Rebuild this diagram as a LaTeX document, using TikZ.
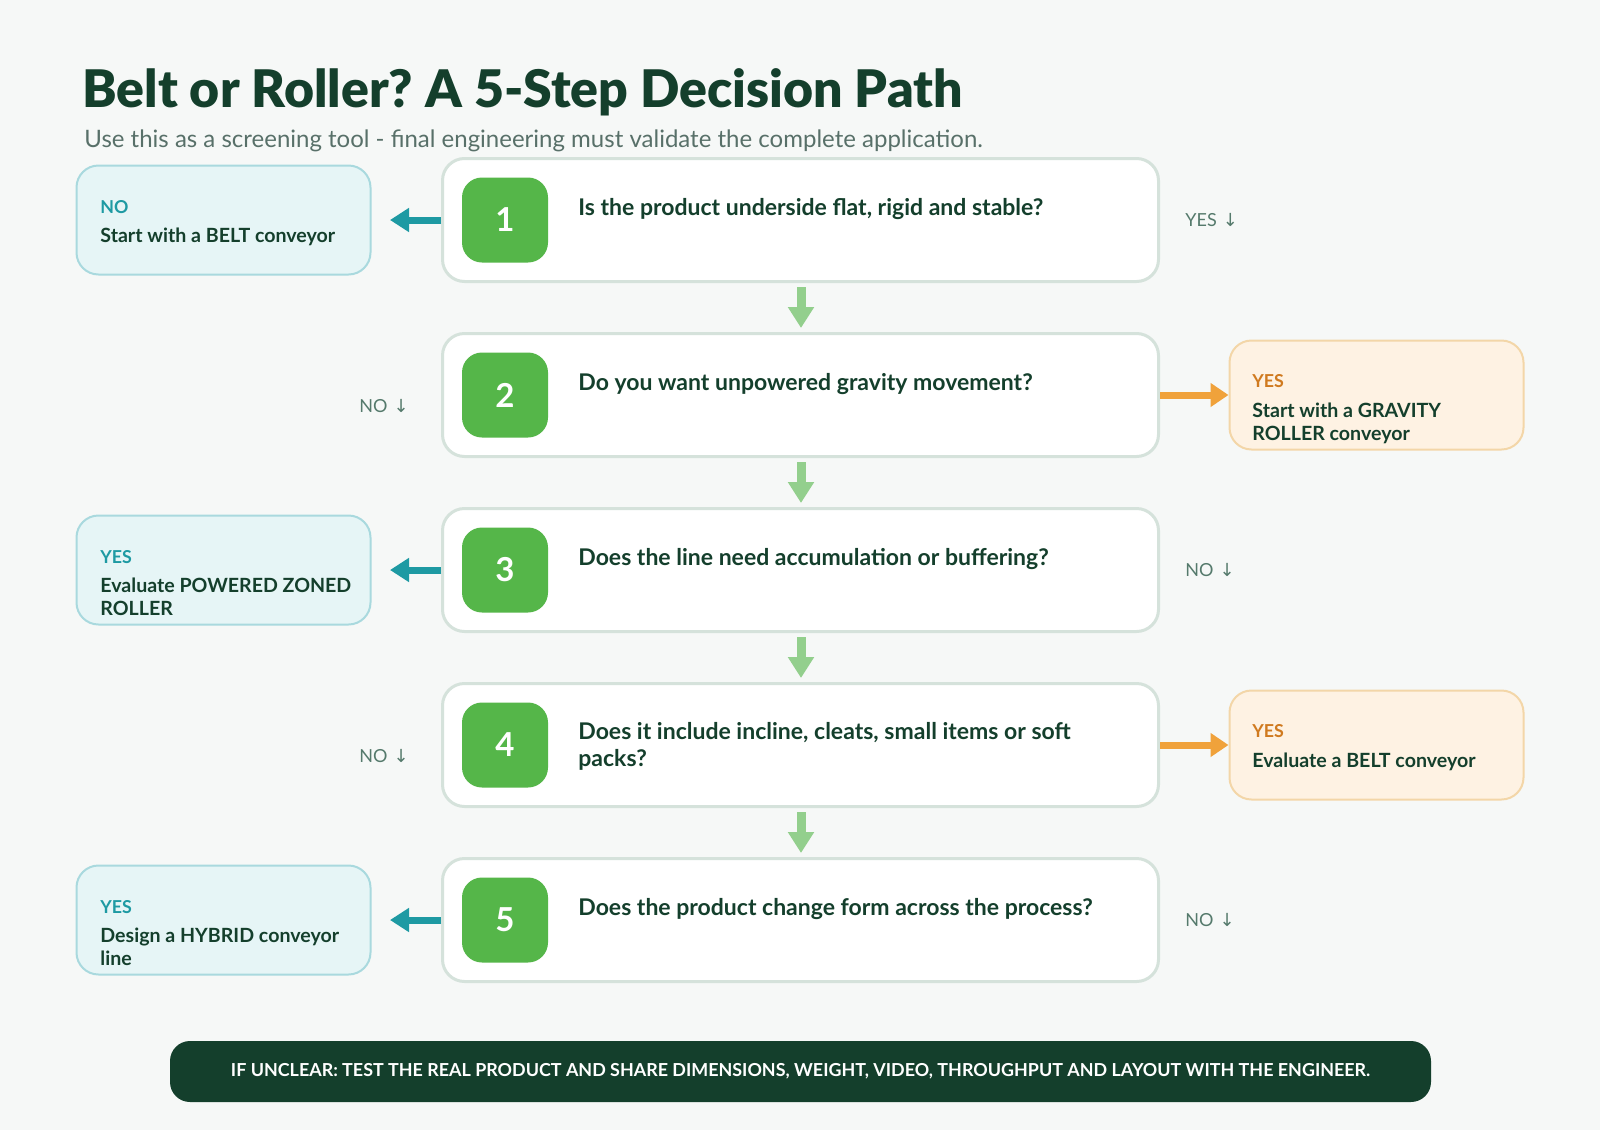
\documentclass[tikz,border=0pt]{standalone}
\usepackage{fontspec}
\setmainfont{Lato}
\newfontfamily\arrowfont{DejaVu Sans}
\IfFontExistsTF{Lato Black}{\newfontfamily\titlefont{Lato Black}\newcommand\titlesize{25.9}}{\newfontfamily\titlefont[UprightFont=*-Bold]{Lato}\newcommand\titlesize{26.5}}
\usetikzlibrary{arrows.meta,calc}
\frenchspacing
\definecolor{bgc}{HTML}{F6F8F7}
\definecolor{darkg}{HTML}{143F2C}
\definecolor{subc}{HTML}{587069}
\definecolor{stepborder}{HTML}{D5E2DB}
\definecolor{badgec}{HTML}{55B649}
\definecolor{tealfill}{HTML}{E6F5F6}
\definecolor{tealborder}{HTML}{A9D9DE}
\definecolor{tealc}{HTML}{1E9AA3}
\definecolor{orfill}{HTML}{FEF2E3}
\definecolor{orborder}{HTML}{F3D6A8}
\definecolor{orlab}{HTML}{D07A1F}
\definecolor{orarrow}{HTML}{F0A23B}
\definecolor{greenarrow}{HTML}{93CF8D}
\definecolor{sidec}{HTML}{557A6C}
\newcommand\firstbase[1]{\parbox[t]{300pt}{\raggedright #1}}
\tikzset{
  stepbox/.style={draw=stepborder, line width=1.5pt, fill=white, rounded corners=11pt,
    minimum width=358pt, minimum height=61.5pt, inner sep=0pt},
  badge/.style={fill=badgec, rounded corners=10pt, minimum width=43pt, minimum height=42.5pt,
    inner sep=0pt, text=white, font=\fontsize{16.5}{18}\selectfont\bfseries},
  question/.style={anchor=base west, inner sep=0pt, text=darkg,
    font=\fontsize{11.5}{13.5}\selectfont\bfseries},
  tealbox/.style={draw=tealborder, line width=1pt, fill=tealfill, rounded corners=11pt,
    minimum width=147pt, minimum height=54.5pt, inner sep=0pt},
  orbox/.style={draw=orborder, line width=1pt, fill=orfill, rounded corners=11pt,
    minimum width=147pt, minimum height=54.5pt, inner sep=0pt},
  tlabel/.style={anchor=base west, inner sep=0pt, text=tealc, font=\fontsize{8.9}{10}\selectfont\bfseries},
  olabel/.style={anchor=base west, inner sep=0pt, text=orlab, font=\fontsize{8.9}{10}\selectfont\bfseries},
  bodytext/.style={anchor=base west, inner sep=0pt, text=darkg,
    font=\fontsize{9.8}{11.5}\selectfont\bfseries},
  sidelab/.style={inner sep=0pt, text=sidec, font=\fontsize{9}{10}\selectfont},
  tealarrow/.style={draw=tealc, line width=3.5pt, -{Triangle[length=9.5pt,width=11.5pt]}},
  orarrowst/.style={draw=orarrow, line width=3.5pt, -{Triangle[length=9pt,width=11.5pt]}},
  grarrow/.style={draw=greenarrow, line width=4.5pt, -{Triangle[length=10.5pt,width=12.5pt]}},
}
\begin{document}
\begin{tikzpicture}[x=0.5pt,y=-0.5pt]
\fill[bgc] (0,0) rectangle (1600,1130);
\useasboundingbox (0,0) rectangle (1600,1130);

% title
\node[anchor=base west, inner sep=0pt, text=darkg, font=\titlefont\fontsize{\titlesize}{30}\selectfont] (title) at (82,107) {Belt or Roller? A 5-Step Decision Path};
\node[anchor=base west, inner sep=0pt, text=subc, font=\fontsize{12}{14}\selectfont] (subtitle) at (84,147) {Use this as a screening tool - final engineering must validate the complete application.};

% step boxes
\foreach \i/\t in {1/157,2/332,3/507,4/682,5/857}{
  \node[stepbox] (s\i) at (800.5,\t+63) {};
  \node[badge] (b\i) at (505,\t+63) {\i};
}
\node[question] (q1) at (578,215) {Is the product underside flat, rigid and stable?};
\node[question] (q2) at (578,390) {Do you want unpowered gravity movement?};
\node[question] (q3) at (578,565) {Does the line need accumulation or buffering?};
\node[question] (q4) at (578,739) {\firstbase{Does it include incline, cleats, small items or soft\\ packs?}};
\node[question] (q5) at (578,915) {Does the product change form across the process?};

% down arrows
\foreach \i/\j in {1/2,2/3,3/4,4/5}{
  \draw[grarrow] ($(s\i.south)+(0.5,4)$) -- ($(s\j.north)+(0.5,-4)$);
}

% left outcome boxes
\node[tealbox] (l1) at (223.5,220) {};
\node[tlabel] (l1a) at (100,213) {NO};
\node[bodytext] (l1b) at (100,242) {Start with a BELT conveyor};
\coordinate (t1) at (390,220);
\draw[tealarrow] (s1.west) -- (t1);

\node[tealbox] (l3) at (223.5,570) {};
\node[tlabel] (l3a) at (100,563) {YES};
\node[bodytext] (l3b) at (100,592) {\firstbase{Evaluate POWERED ZONED\\ROLLER}};
\coordinate (t3) at (390,570);
\draw[tealarrow] (s3.west) -- (t3);

\node[tealbox] (l5) at (223.5,920) {};
\node[tlabel] (l5a) at (100,913) {YES};
\node[bodytext] (l5b) at (100,942) {\firstbase{Design a HYBRID conveyor\\line}};
\coordinate (t5) at (390,920);
\draw[tealarrow] (s5.west) -- (t5);

% right outcome boxes
\node[orbox] (r2) at (1376.5,395) {};
\node[olabel] (r2a) at (1252,387) {YES};
\node[bodytext] (r2b) at (1252,417) {\firstbase{Start with a GRAVITY\\ROLLER conveyor}};
\draw[orarrowst] (s2.east) -- (r2.west);

\node[orbox] (r4) at (1376.5,745) {};
\node[olabel] (r4a) at (1252,737) {YES};
\node[bodytext] (r4b) at (1252,767) {Evaluate a BELT conveyor};
\draw[orarrowst] (s4.east) -- (r4.west);

% side labels
\node[sidelab, anchor=west] (y1) at (1185,220) {YES\,\,{\arrowfont ↓}};
\node[sidelab, anchor=east] (n2) at (409,406) {NO\,\,{\arrowfont ↓}};
\node[sidelab, anchor=west] (n3) at (1185,570) {NO\,\,{\arrowfont ↓}};
\node[sidelab, anchor=east] (n4) at (409,756) {NO\,\,{\arrowfont ↓}};
\node[sidelab, anchor=west] (n5) at (1185,920) {NO\,\,{\arrowfont ↓}};

% bottom bar
\node[fill=darkg, rounded corners=10pt, minimum width=630.5pt, minimum height=30.5pt, inner sep=0pt,
  text=white, font=\fontsize{8.95}{10}\selectfont\bfseries] (bar) at (800.5,1071.5)
  {IF UNCLEAR: TEST THE REAL PRODUCT AND SHARE DIMENSIONS, WEIGHT, VIDEO, THROUGHPUT AND LAYOUT WITH THE ENGINEER.};
\end{tikzpicture}
\end{document}
